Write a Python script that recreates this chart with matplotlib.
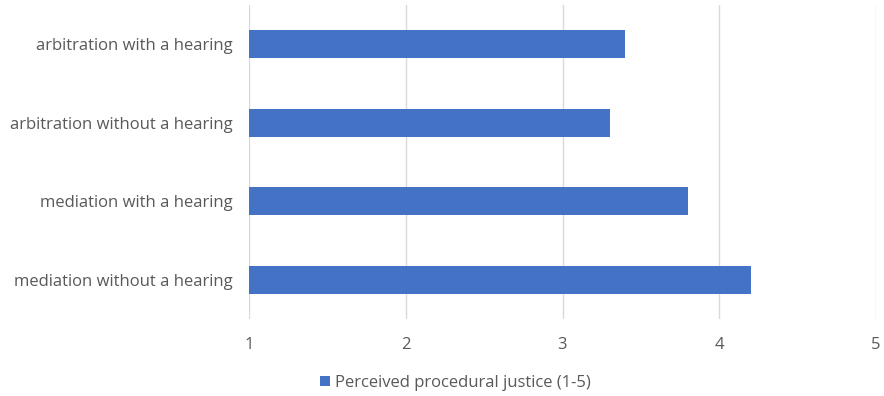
import matplotlib
matplotlib.use("Agg")
import matplotlib.pyplot as plt
from matplotlib.patches import Patch

categories = ["mediation without a hearing", "mediation with a hearing",
              "arbitration without a hearing", "arbitration with a hearing"]
values = [4.2, 3.8, 3.3, 3.4]
series_name = "Perceived procedural justice (1-5)"
xticks = [1, 2, 3, 4, 5]

plt.rcParams['font.family'] = ['Open Sans', 'DejaVu Sans']
text_color = "#595959"
bar_color = "#4472C4"

fig = plt.figure(figsize=(8.84, 3.96), dpi=100)
ax = fig.add_axes([249/884, 1 - 319/396, (876-249)/884, (319-5)/396])

ypos = list(range(len(categories)))
ax.barh(ypos, [v - 1 for v in values], left=1, height=0.36, color=bar_color, zorder=3)
ax.set_yticks(ypos)
ax.set_yticklabels(categories)
ax.set_ylim(-0.5, len(categories) - 0.5)
ax.set_xlim(1, 5)
ax.set_xticks(xticks)
ax.set_xticklabels([str(t) for t in xticks])
ax.grid(axis='x', color='#D9D9D9', linewidth=1.0, zorder=0)
for s in ax.spines.values():
    s.set_visible(False)
ax.tick_params(axis='both', length=0, labelsize=12, colors=text_color)
ax.tick_params(axis='y', pad=12)
ax.tick_params(axis='x', pad=13)

handle = Patch(facecolor=bar_color, edgecolor='none')
fig.legend([handle], [series_name], loc='center', bbox_to_anchor=(455/884, 1 - 383/396),
           frameon=False, fontsize=12, labelcolor=text_color,
           handlelength=0.6, handleheight=0.6, handletextpad=0.3)

fig.savefig("out.png", dpi=100)
